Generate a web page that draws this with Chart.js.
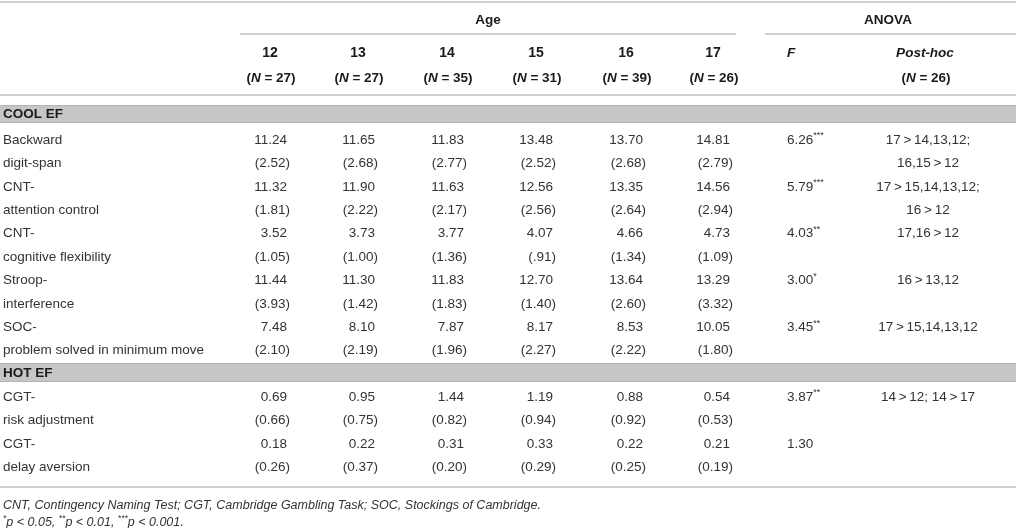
<!DOCTYPE html>
<html>
<head>
<meta charset="utf-8">
<script src="https://cdn.jsdelivr.net/npm/chart.js@4"></script>
<style>
  html, body { margin: 0; padding: 0; background: #fff; }
  #wrap { width: 1016px; height: 528px; position: relative; }
</style>
</head>
<body>
<div id="wrap"><canvas id="tableChart"></canvas></div>
<script>
  // table values
  const ages = ['12', '13', '14', '15', '16', '17'];
  const ageN = [27, 27, 35, 31, 39, 26];
  const postHocN = 26;

  const coolLabels = [
    ['Backward', 'digit-span'],
    ['CNT-', 'attention control'],
    ['CNT-', 'cognitive flexibility'],
    ['Stroop-', 'interference'],
    ['SOC-', 'problem solved in minimum move']
  ];
  const hotLabels = [
    ['CGT-', 'risk adjustment'],
    ['CGT-', 'delay aversion']
  ];

  const backwardMean = [11.24, 11.65, 11.83, 13.48, 13.70, 14.81];
  const backwardSd = ['2.52', '2.68', '2.77', '2.52', '2.68', '2.79'];
  const cntAttMean = [11.32, 11.90, 11.63, 12.56, 13.35, 14.56];
  const cntAttSd = ['1.81', '2.22', '2.17', '2.56', '2.64', '2.94'];
  const cntFlexMean = [3.52, 3.73, 3.77, 4.07, 4.66, 4.73];
  const cntFlexSd = ['1.05', '1.00', '1.36', '.91', '1.34', '1.09'];
  const stroopMean = [11.44, 11.30, 11.83, 12.70, 13.64, 13.29];
  const stroopSd = ['3.93', '1.42', '1.83', '1.40', '2.60', '3.32'];
  const socMean = [7.48, 8.10, 7.87, 8.17, 8.53, 10.05];
  const socSd = ['2.10', '2.19', '1.96', '2.27', '2.22', '1.80'];
  const cgtRiskMean = [0.69, 0.95, 1.44, 1.19, 0.88, 0.54];
  const cgtRiskSd = ['0.66', '0.75', '0.82', '0.94', '0.92', '0.53'];
  const cgtDelayMean = [0.18, 0.22, 0.31, 0.33, 0.22, 0.21];
  const cgtDelaySd = ['0.26', '0.37', '0.20', '0.29', '0.25', '0.19'];

  const fValues = [6.26, 5.79, 4.03, 3.00, 3.45, 3.87, 1.30];
  const fStars = ['***', '***', '**', '*', '**', '**', ''];
  const postHoc = [
    ['17>14,13,12;', '16,15>12'],
    ['17>15,14,13,12;', '16>12'],
    ['17,16>12'],
    ['16>13,12'],
    ['17>15,14,13,12'],
    ['14>12; 14>17'],
    []
  ];

  const coolMeans = [backwardMean, cntAttMean, cntFlexMean, stroopMean, socMean];
  const coolSds = [backwardSd, cntAttSd, cntFlexSd, stroopSd, socSd];
  const hotMeans = [cgtRiskMean, cgtDelayMean];
  const hotSds = [cgtRiskSd, cgtDelaySd];

  // layout (page pixels, used as scale units)
  const W = 1016, H = 528;
  const colRight = [287, 375, 464, 553, 643, 730];
  const labelX = 3, fX = 787, postX = 928;
  const rowStep = 23.4;
  const coolTop = 140, hotTop = 397;
  const FONT = '"Liberation Sans", Arial, Helvetica, sans-serif';
  const INK = '#333';

  // build cells as points: {x, y, segs, align}
  const cells = [];
  function cell(x, y, segs, align) {
    cells.push({ x: x, y: y, segs: segs, align: align || 'left' });
  }
  const n = t => ({ t: t, f: 'normal', size: 13.5 });
  const b = t => ({ t: t, f: 'bold', size: 13.5 });
  const bi = t => ({ t: t, f: 'italic bold', size: 13.5 });
  const sup = t => ({ t: t, f: 'normal', size: 9, rise: 4 });

  cell(488, 20, [b('Age')], 'center');
  cell(888, 20, [b('ANOVA')], 'center');
  ages.forEach((a, i) => {
    cell(colRight[i] - 17, 53, [{ t: a, f: 'bold', size: 14 }], 'center');
    cell(colRight[i] - 16, 78, [b('('), bi('N'), b(' = ' + ageN[i] + ')')], 'center');
  });
  cell(fX, 53, [bi('F')], 'left');
  cell(925, 53, [bi('Post-hoc')], 'center');
  cell(926, 78, [b('('), bi('N'), b(' = ' + postHocN + ')')], 'center');
  cell(labelX, 114, [b('COOL EF')], 'left');
  cell(labelX, 373, [b('HOT EF')], 'left');

  function addBlock(labels, means, sds, top, fOffset) {
    labels.forEach((lab, m) => {
      const y1 = top + rowStep * 2 * m;
      const y2 = y1 + rowStep;
      cell(labelX, y1, [n(lab[0])]);
      cell(labelX, y2, [n(lab[1])]);
      means[m].forEach((v, i) => {
        cell(colRight[i], y1, [n(v.toFixed(2))], 'right');
        cell(colRight[i] + 3, y2, [n('(' + sds[m][i] + ')')], 'right');
      });
      const k = fOffset + m;
      const fs = [n(fValues[k].toFixed(2))];
      if (fStars[k]) fs.push(sup(fStars[k]));
      cell(fX, y1, fs, 'left');
      postHoc[k].forEach((p, j) => {
        cell(postX, y1 + rowStep * j, [n(p.replace(/>/g, '\u2009>\u2009'))], 'center');
      });
    });
  }
  addBlock(coolLabels, coolMeans, coolSds, coolTop, 0);
  addBlock(hotLabels, hotMeans, hotSds, hotTop, coolLabels.length);

  // footnotes
  const it = t => ({ t: t, f: 'italic', size: 12.5 });
  const itSup = t => ({ t: t, f: 'italic', size: 8.5, rise: 4 });
  cell(labelX, 506, [it('CNT, Contingency Naming Test; CGT, Cambridge Gambling Task; SOC, Stockings of Cambridge.')]);
  cell(labelX, 523, [itSup('*'), it('p < 0.05, '), itSup('**'), it('p < 0.01, '), itSup('***'), it('p < 0.001.')]);

  // rules and shaded bands
  const rules = [
    [0, W, 2], [240, 736, 34], [765, W, 34], [0, W, 95], [0, W, 487]
  ];
  const bands = [[105, 123], [363, 382]];

  const tablePlugin = {
    id: 'tablePlugin',
    beforeDatasetsDraw(chart) {
      const ctx = chart.ctx;
      const xs = chart.scales.x, ys = chart.scales.y;
      ctx.save();
      bands.forEach(([t, btm]) => {
        const y0 = ys.getPixelForValue(t), y1 = ys.getPixelForValue(btm);
        ctx.fillStyle = '#c5c6c8';
        ctx.fillRect(xs.getPixelForValue(0), y0, xs.getPixelForValue(W) - xs.getPixelForValue(0), y1 - y0);
        ctx.strokeStyle = '#b3b4b6';
        ctx.lineWidth = 1;
        ctx.beginPath();
        ctx.moveTo(0, y0 + 0.5); ctx.lineTo(W, y0 + 0.5);
        ctx.moveTo(0, y1 - 0.5); ctx.lineTo(W, y1 - 0.5);
        ctx.stroke();
      });
      ctx.strokeStyle = '#cfcfcf';
      ctx.lineWidth = 2;
      rules.forEach(([a, c, y]) => {
        ctx.beginPath();
        ctx.moveTo(xs.getPixelForValue(a), ys.getPixelForValue(y));
        ctx.lineTo(xs.getPixelForValue(c), ys.getPixelForValue(y));
        ctx.stroke();
      });
      ctx.restore();
    },
    afterDatasetsDraw(chart) {
      const ctx = chart.ctx;
      const meta = chart.getDatasetMeta(0);
      ctx.save();
      ctx.textBaseline = 'middle';
      ctx.textAlign = 'left';
      meta.data.forEach((el, i) => {
        const c = chart.data.datasets[0].data[i];
        let total = 0;
        c.segs.forEach(s => {
          ctx.font = s.f + ' ' + s.size + 'px ' + FONT;
          s.w = ctx.measureText(s.t).width;
          total += s.w;
        });
        let x = el.x;
        if (c.align === 'center') x -= total / 2;
        else if (c.align === 'right') x -= total;
        c.segs.forEach(s => {
          ctx.font = s.f + ' ' + s.size + 'px ' + FONT;
          ctx.fillStyle = s.f.indexOf('bold') >= 0 ? '#1a1a1a' : INK;
          ctx.fillText(s.t, x, el.y - (s.rise || 0));
          x += s.w;
        });
      });
      ctx.restore();
    }
  };

  const tableX = document.getElementById('tableChart');
  const tableChart = new Chart(tableX, {
    type: 'scatter',
    data: {
      datasets: [{
        label: 'cells',
        data: cells,
        pointRadius: 0,
        pointHoverRadius: 0
      }]
    },
    options: {
      responsive: true,
      maintainAspectRatio: false,
      animation: false,
      events: [],
      layout: { padding: 0 },
      plugins: {
        legend: { display: false },
        tooltip: { enabled: false }
      },
      scales: {
        x: { type: 'linear', min: 0, max: W, display: false },
        y: { type: 'linear', min: 0, max: H, reverse: true, display: false }
      }
    },
    plugins: [tablePlugin]
  });
</script>
</body>
</html>
